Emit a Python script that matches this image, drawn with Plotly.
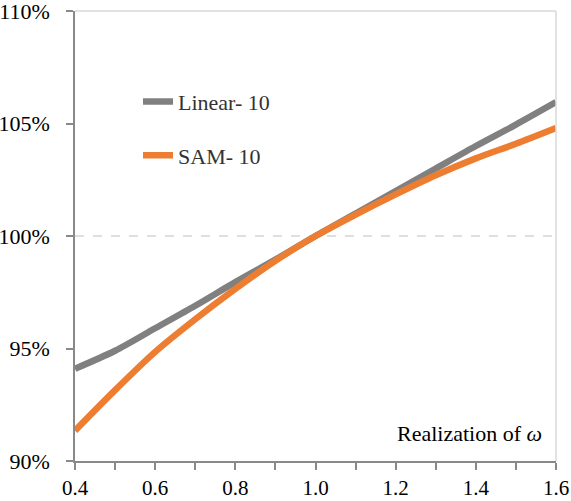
import plotly.graph_objects as go

omega = [0.4, 0.5, 0.6, 0.7, 0.8, 0.9, 1.0, 1.1, 1.2, 1.3, 1.4, 1.5, 1.6]
linear_10 = [94.1, 94.9, 95.9, 96.9, 97.95, 98.95, 100.0, 101.0, 102.0, 103.0, 104.0, 104.95, 105.95]
sam_10 = [91.35, 93.15, 94.85, 96.3, 97.65, 98.9, 100.0, 100.95, 101.85, 102.7, 103.45, 104.1, 104.8]
y_ticks = [90, 95, 100, 105, 110]
y_labels = [f"{v}%" for v in y_ticks]
x_ticks = [0.4, 0.6, 0.8, 1.0, 1.2, 1.4, 1.6]
x_labels = [f"{v:.1f}" for v in x_ticks]
ref_level = 100

serif = "Liberation Serif"

fig = go.Figure()
fig.add_trace(go.Scatter(x=omega, y=linear_10, name="Linear- 10", mode="lines",
                         line=dict(color="#808080", width=6.5, shape="spline", smoothing=0.8),
                         legendgroup="a"))
fig.add_trace(go.Scatter(x=omega, y=sam_10, name="SAM- 10", mode="lines",
                         line=dict(color="#ED7D31", width=6.5, shape="spline", smoothing=0.8),
                         legendgroup="b"))

fig.add_shape(type="line", xref="paper", yref="y", x0=0, x1=1, y0=ref_level, y1=ref_level,
              line=dict(color="#bfbfbf", width=1, dash="dash"), layer="below")
# light frame on top and right
fig.add_shape(type="line", xref="paper", yref="paper", x0=0, x1=1, y0=1, y1=1,
              line=dict(color="#d9d9d9", width=1.5))
fig.add_shape(type="line", xref="paper", yref="paper", x0=1, x1=1, y0=0, y1=1,
              line=dict(color="#d9d9d9", width=1.5))

fig.add_annotation(text="Realization of <i>ω</i>", xref="paper", yref="paper",
                   x=0.975, y=0.062, xanchor="right", yanchor="middle", showarrow=False,
                   font=dict(family=serif, size=22, color="#000000"))

fig.update_layout(
    width=571, height=501,
    margin=dict(l=75, r=15, t=11, b=40, autoexpand=False),
    plot_bgcolor="white", paper_bgcolor="white",
    font=dict(family=serif, size=22, color="#000000"),
    showlegend=True,
    legend=dict(x=0.131, y=0.845, xanchor="left", yanchor="top",
                bgcolor="rgba(0,0,0,0)", font=dict(family=serif, size=22, color="#333333"),
                tracegroupgap=22, itemwidth=30),
    xaxis=dict(range=[0.4, 1.6], tickmode="array", tickvals=x_ticks, ticktext=x_labels,
               showgrid=False, zeroline=False, showline=True, linecolor="#898989", linewidth=1.5,
               ticks="outside", ticklen=7, tickcolor="#898989", tickwidth=1.5,
               ticklabeloverflow="allow", automargin=False, ticklabelstandoff=0,
               minor=dict(dtick=0.1, ticks="outside", ticklen=7, tickcolor="#898989", tickwidth=1.5, showgrid=False),
               tickfont=dict(family=serif, size=21)),
    yaxis=dict(range=[90, 110], tickmode="array", tickvals=y_ticks, ticktext=y_labels,
               showgrid=False, zeroline=False, showline=True, linecolor="#898989", linewidth=1.5,
               ticks="outside", ticklen=7, tickcolor="#898989", tickwidth=1.5,
               ticklabeloverflow="allow", automargin=False, ticklabelstandoff=12,
               tickfont=dict(family=serif, size=22)),
)

fig.write_html("out.html", post_script="document.body.style.margin='0';",
               config={"displayModeBar": False})
